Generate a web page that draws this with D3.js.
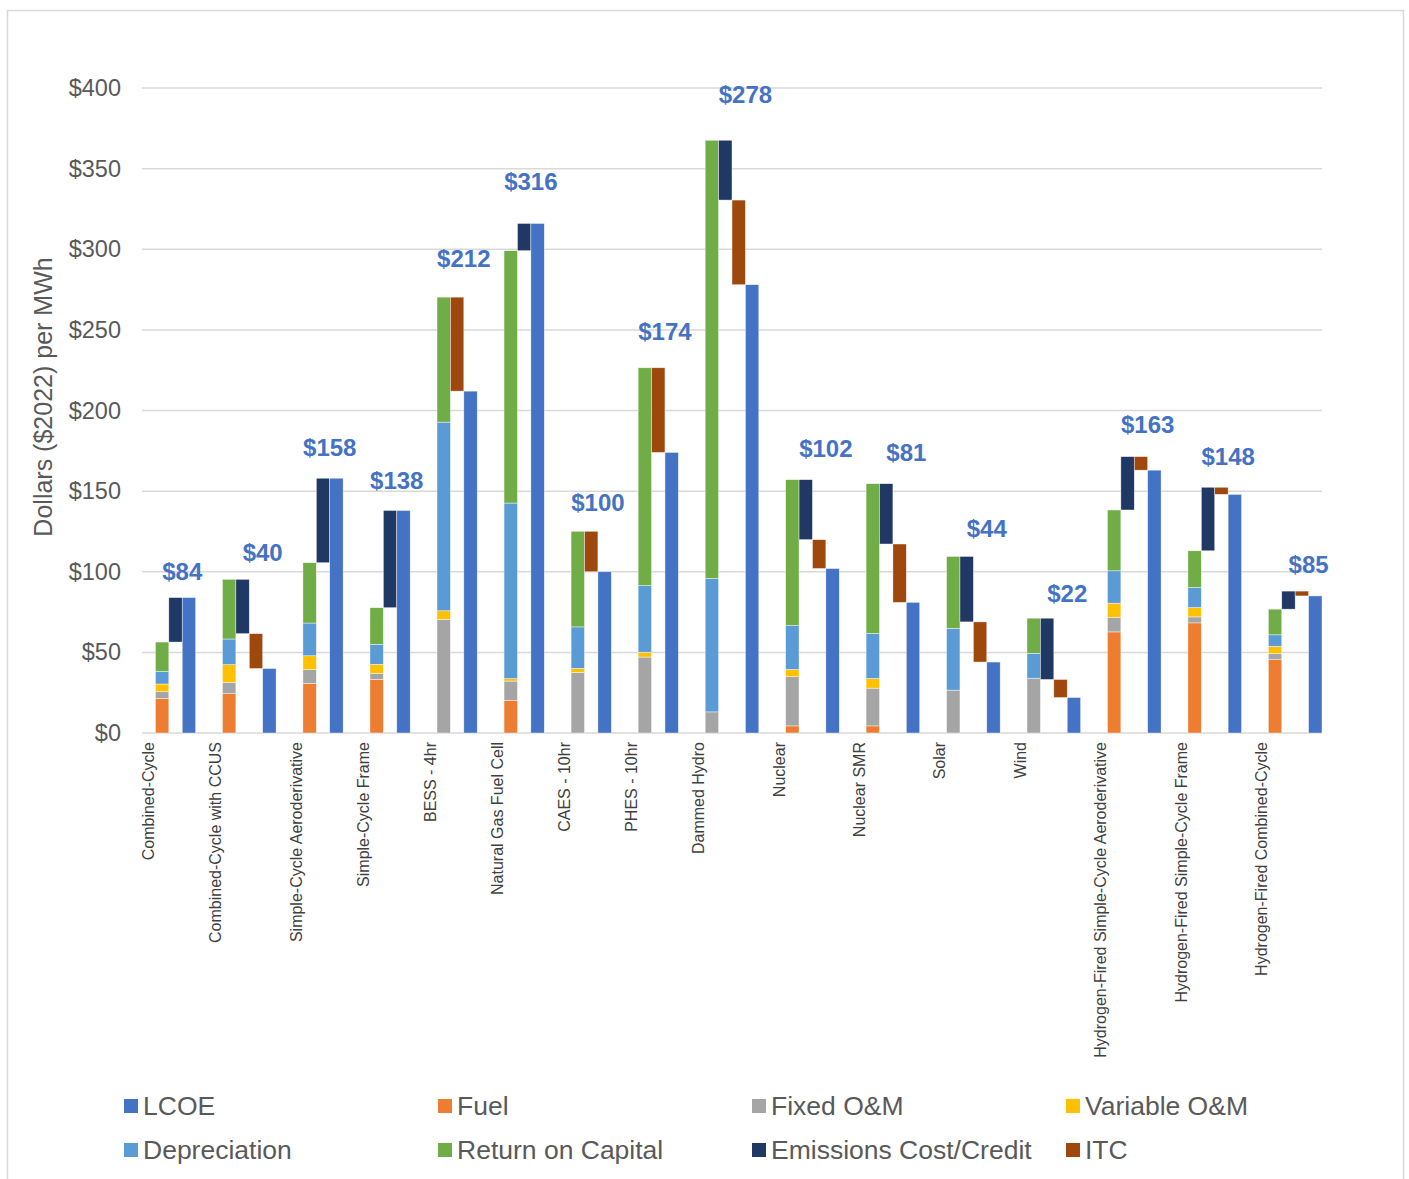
<!DOCTYPE html>
<html>
<head>
<meta charset="utf-8">
<script src="https://cdn.jsdelivr.net/npm/d3@7"></script>
<style>
  html, body { margin: 0; padding: 0; background: #fff; }
  svg { display: block; font-family: "Liberation Sans", Arial, sans-serif; }
</style>
</head>
<body>
<svg id="chart" width="1409" height="1179"></svg>
<script>
// Levelized cost of electricity build-up by technology ($2022 per MWh)
const technologies = [
  "Combined-Cycle", "Combined-Cycle with CCUS", "Simple-Cycle Aeroderivative",
  "Simple-Cycle Frame", "BESS - 4hr", "Natural Gas Fuel Cell", "CAES - 10hr",
  "PHES - 10hr", "Dammed Hydro", "Nuclear", "Nuclear SMR", "Solar", "Wind",
  "Hydrogen-Fired Simple-Cycle Aeroderivative", "Hydrogen-Fired Simple-Cycle Frame",
  "Hydrogen-Fired Combined-Cycle"
];
const fuel            = [21.5, 24.4, 30.8, 33.3,   0.0,  20.3,  0.0,   0.0,   0.0,  4.4,  4.4,  0.0,  0.0, 62.7, 68.3, 45.5];
const fixedOM         = [ 4.1,  7.0,  8.5,  3.7,  70.5,  11.9, 37.6,  47.1,  13.1, 30.5, 23.4, 26.6, 34.0,  9.1,  3.7,  3.8];
const variableOM      = [ 4.8, 11.0,  8.6,  5.6,   5.3,   1.5,  2.5,   3.0,   0.0,  4.5,  6.0,  0.0,  0.0,  8.7,  5.8,  4.5];
const depreciation    = [ 7.9, 15.9, 20.3, 12.4, 117.0, 108.9, 25.7,  41.3,  82.7, 27.2, 28.0, 38.3, 15.4, 20.1, 12.5,  7.1];
const returnOnCapital = [18.1, 37.0, 37.4, 22.7,  77.5, 156.5, 59.3, 135.1, 271.8, 90.5, 92.8, 44.6, 21.8, 37.7, 22.7, 15.9];
// null = no bar for that technology
const emissions       = [27.6, -33.7, 52.4, 60.3, null, 16.9, null, null, -37.1, -37.2, -37.4, -40.6, -38.0, 33.1, 39.4, 11.2];
const itc             = [null, -21.6, null, null, -58.3, null, -25.1, -52.5, -52.5, -17.9, -36.2, -24.9, -11.2, -8.4, -4.4, -3.0];
const lcoe            = [84, 40, 158, 138, 212, 316, 100, 174, 278, 102, 81, 44, 22, 163, 148, 85];
const yTicks          = [0, 50, 100, 150, 200, 250, 300, 350, 400];

const componentKeys = ["Fuel", "Fixed O&M", "Variable O&M", "Depreciation", "Return on Capital"];
const componentData = [fuel, fixedOM, variableOM, depreciation, returnOnCapital];
const legendItems = ["LCOE", "Fuel", "Fixed O&M", "Variable O&M",
                     "Depreciation", "Return on Capital", "Emissions Cost/Credit", "ITC"];
const colors = {
  "LCOE": "#4472C4", "Fuel": "#ED7D31", "Fixed O&M": "#A5A5A5", "Variable O&M": "#FFC000",
  "Depreciation": "#5B9BD5", "Return on Capital": "#70AD47",
  "Emissions Cost/Credit": "#203864", "ITC": "#9E480E"
};

// Lay out category slots: a labelled slot, the technology's bars, then a spacer
const slots = [];
const groups = technologies.map((name, i) => {
  const g = { name, i, labelSlot: slots.length, bars: [] };
  slots.push({ kind: "label" });
  const compTotal = d3.sum(componentData, arr => arr[i]);
  g.bars.push({ kind: "stack", slot: slots.length }); slots.push({});
  let running = compTotal;
  let maxTop = compTotal;
  if (emissions[i] !== null) {
    const next = running + emissions[i];
    g.bars.push({ kind: "Emissions Cost/Credit", slot: slots.length, y0: running, y1: next });
    slots.push({});
    running = next; maxTop = Math.max(maxTop, running);
  }
  if (itc[i] !== null) {
    const next = running + itc[i];
    g.bars.push({ kind: "ITC", slot: slots.length, y0: running, y1: next });
    slots.push({});
    running = next;
  }
  g.bars.push({ kind: "LCOE", slot: slots.length, y0: 0, y1: lcoe[i] }); slots.push({});
  g.maxTop = maxTop;
  if (i < technologies.length - 1) slots.push({ kind: "spacer" });
  return g;
});

const svg = d3.select("#chart");
const plot = { left: 142, right: 1322, top: 88, bottom: 733 };

// Chart frame
svg.append("rect")
  .attr("x", 7.5).attr("y", 10.5).attr("width", 1396).attr("height", 1190)
  .attr("fill", "#fff").attr("stroke", "#D9D9D9").attr("stroke-width", 1.5);

const x = d3.scaleBand().domain(d3.range(slots.length))
  .range([plot.left, plot.right]).paddingInner(0).paddingOuter(0);
const y = d3.scaleLinear().domain([0, 400]).range([plot.bottom, plot.top]);

// Gridlines
svg.append("g").selectAll("line").data(yTicks).join("line")
  .attr("x1", plot.left).attr("x2", plot.right)
  .attr("y1", d => y(d)).attr("y2", d => y(d))
  .attr("stroke", "#D9D9D9").attr("stroke-width", 1.5);

// Y axis labels
const yAxis = svg.append("g").attr("transform", `translate(${plot.left},0)`)
  .call(d3.axisLeft(y).tickValues(yTicks).tickSize(0).tickPadding(21).tickFormat(d => "$" + d));
yAxis.select(".domain").remove();
yAxis.selectAll("text").attr("font-size", 23.5).attr("fill", "#595959")
  .attr("font-family", "'Liberation Sans', Arial, sans-serif");

svg.append("text")
  .attr("transform", "translate(43,397) rotate(-90)")
  .attr("text-anchor", "middle").attr("dominant-baseline", "central")
  .attr("font-size", 25).attr("fill", "#595959")
  .text("Dollars ($2022) per MWh");

const bw = x.bandwidth();
const barG = svg.append("g").attr("stroke", "#fff").attr("stroke-width", 0.6).attr("stroke-opacity", 0.7);

// Stacked cost components
const stackRows = technologies.map((t, i) => {
  const row = {};
  componentKeys.forEach((k, j) => row[k] = componentData[j][i]);
  return row;
});
const series = d3.stack().keys(componentKeys)(stackRows);
series.forEach(s => {
  barG.append("g").attr("fill", colors[s.key]).selectAll("rect")
    .data(s.map((d, i) => ({ d, i })).filter(o => o.d[1] - o.d[0] > 0))
    .join("rect")
    .attr("x", o => x(groups[o.i].bars[0].slot))
    .attr("width", bw)
    .attr("y", o => y(o.d[1]))
    .attr("height", o => y(o.d[0]) - y(o.d[1]));
});

// Floating emissions / ITC bars and the resulting LCOE bar
const floating = groups.flatMap(g => g.bars.filter(b => b.kind !== "stack"));
barG.append("g").selectAll("rect").data(floating).join("rect")
  .attr("fill", b => colors[b.kind])
  .attr("x", b => x(b.slot)).attr("width", bw)
  .attr("y", b => y(Math.max(b.y0, b.y1)))
  .attr("height", b => Math.abs(y(b.y0) - y(b.y1)));

// LCOE value labels, floated above the tallest bar of each technology
svg.append("g").selectAll("text").data(groups).join("text")
  .attr("x", g => x(g.bars[g.bars.length - 1].slot))
  .attr("y", g => y(g.maxTop * 1.043 + 12.4))
  .attr("dy", "0.35em")
  .attr("text-anchor", "middle")
  .attr("font-size", 24).attr("font-weight", "bold").attr("fill", "#4472C4")
  .text(g => "$" + lcoe[g.i]);

// Category labels
svg.append("g").selectAll("text").data(groups).join("text")
  .attr("transform", g => `translate(${x(g.labelSlot) + bw / 2},742) rotate(-90)`)
  .attr("text-anchor", "end").attr("dy", "0.35em")
  .attr("font-size", 16).attr("fill", "#404040")
  .text(g => g.name);

// Legend
const legend = svg.append("g").selectAll("g").data(legendItems).join("g")
  .attr("transform", (d, k) => `translate(${124 + (k % 4) * 314},${1099 + Math.floor(k / 4) * 44})`);
legend.append("rect").attr("width", 14).attr("height", 14).attr("fill", d => colors[d]);
legend.append("text").attr("x", 19).attr("y", 7).attr("dominant-baseline", "central")
  .attr("font-size", 26.5).attr("fill", "#595959").text(d => d);
</script>
</body>
</html>
